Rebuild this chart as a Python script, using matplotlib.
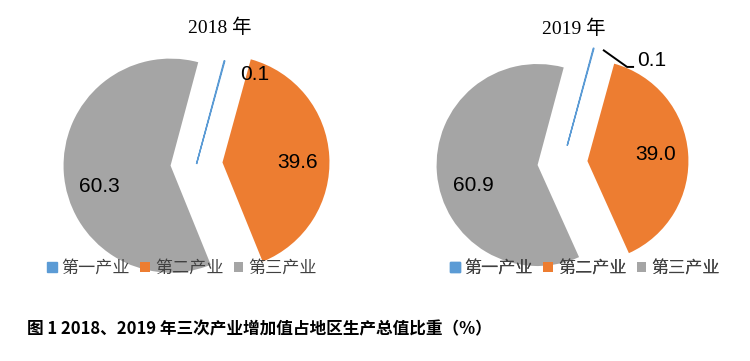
import numpy as np
import matplotlib; matplotlib.use("Agg")
import matplotlib.pyplot as plt

# ---- data ----
years = ["2018 年", "2019 年"]
industries = ["第一产业", "第二产业", "第三产业"]
share_2018 = [0.1, 39.6, 60.3]
share_2019 = [0.1, 39.0, 60.9]
caption = "图 1 2018、2019 年三次产业增加值占地区生产总值比重（%）"

colors = ["#5B9BD5", "#ED7D31", "#A5A5A5"]
plt.rcParams["font.family"] = ["Liberation Sans", "Noto Sans CJK SC", "DejaVu Sans"]

# layout in pixel units (y up), figure is 750x361
panels = [
    dict(values=share_2018, title=years[0], center=(196.5, 197), r=107,
         explode=[0, 26, 26], title_xy=(220, 333), legend_xy=(182, 93),
         # label polar spots: (deg clockwise from top, distance / r)
         lab=[(33, 1.0), (89, 0.94), (257, 0.93)], leader=None),
    dict(values=share_2019, title=years[1], center=(562.5, 198), r=101,
         explode=[18, 25, 25], title_xy=(574, 332), legend_xy=(585, 93),
         lab=[(41, 1.35), (85, 0.93), (256, 0.91)],
         leader=[(19.7, 1.19), (33.9, 1.146)]),
]

fig = plt.figure(figsize=(7.5, 3.61), dpi=100)
ax = fig.add_axes([0, 0, 1, 1])


def polar(c, r, ang, d):
    a = np.radians(ang)
    return c[0] + r * d * np.sin(a), c[1] + r * d * np.cos(a)


for p in panels:
    wedges, _ = ax.pie(p["values"], colors=colors, startangle=75, counterclock=False,
                       center=p["center"], radius=p["r"], explode=p["explode"],
                       wedgeprops=dict(linewidth=0))
    wedges[0].set_edgecolor(colors[0]); wedges[0].set_linewidth(1.0)
    for v, (ang, d) in zip(p["values"], p["lab"]):
        x, y = polar(p["center"], p["r"], ang, d)
        ax.text(x, y, f"{v:.1f}", ha="center", va="center", fontsize=15,
                family=["Liberation Sans", "DejaVu Sans"], color="black")
    if p["leader"]:
        pts = [polar(p["center"], p["r"], a, d) for a, d in p["leader"]]
        pts.append((pts[-1][0] + 7, pts[-1][1]))
        xs, ys = zip(*pts)
        ax.plot(xs, ys, color="black", lw=1.4, solid_capstyle="butt")
    ax.text(*p["title_xy"], p["title"], ha="center", va="center", fontsize=14,
            family=["Liberation Serif", "Noto Sans CJK SC"])
    leg = ax.legend(wedges, industries, ncol=3, frameon=False, loc="center",
                    bbox_to_anchor=p["legend_xy"], bbox_transform=ax.transData,
                    handlelength=0.55, handleheight=0.55, handletextpad=0.3,
                    columnspacing=0.6, borderpad=0,
                    prop=dict(family="Noto Sans CJK SC", size=12.3))
    for t in leg.get_texts():
        t.set_color("#404040")
    ax.add_artist(leg)

ax.text(27, 32, caption, ha="left", va="center", fontsize=12, fontweight="bold",
        family=["Noto Sans CJK SC", "DejaVu Sans"])

ax.set_xlim(0, 750)
ax.set_ylim(0, 361)
ax.set_aspect("auto")
ax.axis("off")
fig.savefig("out.png", dpi=100)
